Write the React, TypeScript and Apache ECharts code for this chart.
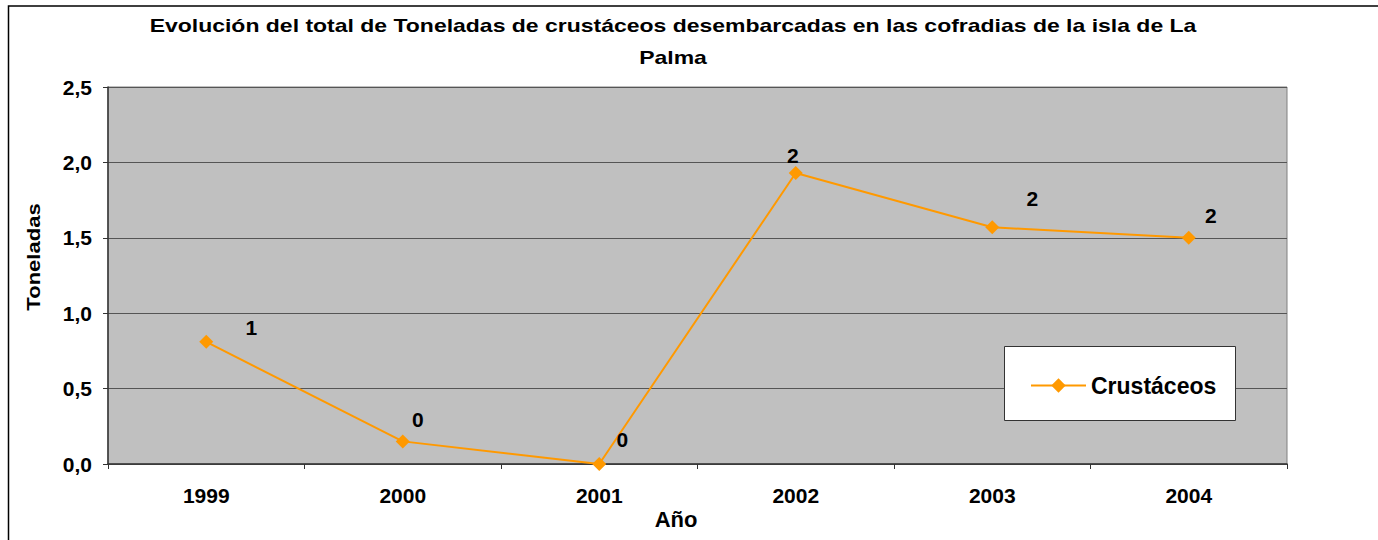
import React, { useEffect, useRef } from "react";
import * as echarts from "echarts";

const categories = ["1999", "2000", "2001", "2002", "2003", "2004"];
const crustaceos = [0.81, 0.15, 0.0, 1.93, 1.57, 1.5];
const seriesName = "Crustáceos";
const titleLines = [
  "Evolución del total de Toneladas de crustáceos desembarcadas en las cofradias de la isla de La",
  "Palma",
];
const yAxisTitle = "Toneladas";
const xAxisTitle = "Año";
// label offsets (manually placed labels in the original)
const labelOffsets: [number, number][] = [
  [45, -14],
  [15, -22],
  [23, -25],
  [-3, -17],
  [40, -29],
  [22, -22],
];

const FONT = "'Liberation Sans', Arial, sans-serif";

export default function App() {
  const ref = useRef<HTMLDivElement>(null);
  useEffect(() => {
    if (!ref.current) return;
    const chart = echarts.init(ref.current, undefined, { renderer: "svg" });
    const option: any = {
      animation: false,
      backgroundColor: "#ffffff",
      textStyle: { fontFamily: FONT },
      grid: {
        left: 108,
        right: 91,
        top: 87,
        bottom: 76,
        show: true,
        backgroundColor: "#C0C0C0",
        borderColor: "#808080",
        borderWidth: 1,
      },
      xAxis: {
        type: "category",
        data: categories,
        boundaryGap: true,
        axisLine: { lineStyle: { color: "#333333", width: 1.5 } },
        axisTick: { show: true, length: 5, lineStyle: { color: "#333333" } },
        axisLabel: {
          color: "#000",
          fontFamily: FONT,
          fontWeight: "bold",
          fontSize: 21,
          margin: 21,
        },
        splitLine: { show: false },
      },
      yAxis: {
        type: "value",
        min: 0,
        max: 2.5,
        interval: 0.5,
        axisLine: { show: true, lineStyle: { color: "#333333", width: 1.5 } },
        axisTick: { show: true, length: 5, lineStyle: { color: "#333333" } },
        axisLabel: {
          color: "#000",
          fontFamily: FONT,
          fontWeight: "bold",
          fontSize: 21,
          margin: 16,
          formatter: (v: number) => v.toFixed(1).replace(".", ","),
        },
        splitLine: { show: true, lineStyle: { color: "#555555", width: 1.2 } },
      },
      legend: {
        show: true,
        data: [seriesName],
        left: 1030,
        top: 374,
        padding: 0,
        itemWidth: 55,
        itemHeight: 18,
        itemGap: 5,
        z: 10,
        textStyle: {
          color: "#000",
          fontFamily: FONT,
          fontWeight: "bold",
          fontSize: 23,
        },
      },
      series: [
        {
          name: seriesName,
          type: "line",
          data: crustaceos.map((v, i) => ({
            value: v,
            label: { offset: labelOffsets[i] },
          })),
          symbol: "diamond",
          symbolSize: 14,
          itemStyle: { color: "#FF9900" },
          lineStyle: { color: "#FF9900", width: 2 },
          label: {
            show: true,
            position: "inside",
            color: "#000",
            fontFamily: FONT,
            fontWeight: "bold",
            fontSize: 21,
            formatter: (p: any) => String(Math.round(p.value)),
          },
          z: 2,
        },
      ],
      graphic: [
        {
          type: "rect",
          silent: true,
          z: 0,
          shape: { x: 8.5, y: 6, width: 1400, height: 600 },
          style: { fill: "none", stroke: "#000", lineWidth: 1.5 },
        },
        {
          type: "rect",
          z: 3,
          shape: { x: 1004.5, y: 346.5, width: 231, height: 74 },
          style: { fill: "#ffffff", stroke: "#333333", lineWidth: 1 },
        },
        {
          type: "text",
          z: 5,
          x: 673,
          y: 25,
          scaleX: 1.21,
          style: {
            text: titleLines[0],
            fontFamily: FONT,
            fontWeight: "bold",
            fontSize: 19,
            fill: "#000",
            align: "center",
            verticalAlign: "middle",
          },
        },
        {
          type: "text",
          z: 5,
          x: 673,
          y: 57,
          scaleX: 1.21,
          style: {
            text: titleLines[1],
            fontFamily: FONT,
            fontWeight: "bold",
            fontSize: 19,
            fill: "#000",
            align: "center",
            verticalAlign: "middle",
          },
        },
        {
          type: "text",
          z: 5,
          x: 33,
          y: 257,
          rotation: Math.PI / 2,
          scaleX: 1.16,
          style: {
            text: yAxisTitle,
            fontFamily: FONT,
            fontWeight: "bold",
            fontSize: 19,
            fill: "#000",
            align: "center",
            verticalAlign: "middle",
          },
        },
        {
          type: "text",
          z: 5,
          x: 676,
          y: 519,
          style: {
            text: xAxisTitle,
            fontFamily: FONT,
            fontWeight: "bold",
            fontSize: 22,
            fill: "#000",
            align: "center",
            verticalAlign: "middle",
          },
        },
      ],
    };
    chart.setOption(option);
    return () => chart.dispose();
  }, []);
  return (
    <div
      ref={ref}
      style={{ position: "absolute", left: 0, top: 0, width: 1378, height: 540 }}
    />
  );
}
